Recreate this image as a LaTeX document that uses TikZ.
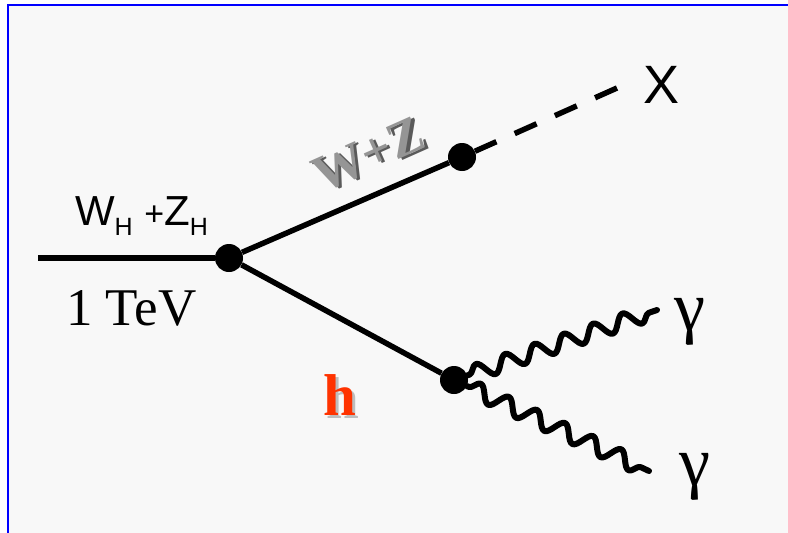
\documentclass[tikz,border=0pt]{standalone}
\usepackage{fontspec}
\setmainfont{Liberation Serif}
\setsansfont{Liberation Sans}
\usetikzlibrary{decorations.pathmorphing}
\definecolor{bg}{HTML}{F8F8F8}
\definecolor{frameblue}{HTML}{0000FF}
\definecolor{hred}{HTML}{FF3300}
\definecolor{wzgray}{HTML}{959595}
\definecolor{wzshadow}{HTML}{5A5A5A}
\definecolor{hshadow}{HTML}{BDBDBD}
\tikzset{
  vertex/.style={circle,fill=black,inner sep=0pt,minimum size=28pt},
  prop/.style={line width=5.5pt},
  dashprop/.style={line width=5.5pt,dash pattern=on 24pt off 20pt},
  photon/.style={line width=6pt,line cap=round,line join=round,
    decorate,decoration={snake,segment length=31pt,amplitude=8pt,pre length=2pt,post length=2pt}},
  lbl/.style={inner sep=0pt,outer sep=0pt}
}
\begin{document}
\begin{tikzpicture}[x=1pt,y=-1pt]
\useasboundingbox (0,0) rectangle (788,533);
\fill[white] (0,0) rectangle (788,533);
\fill[bg] (8,5) rectangle (788,533);
\draw[frameblue,line width=2.2pt] (7.7,533) -- (7.7,5.3) -- (788,5.3);
% vertices
\node[vertex] (v1) at (229,258) {};
\node[vertex] (v2) at (462,157) {};
\node[vertex] (v3) at (454,380) {};
\coordinate (in) at (38,258);
\coordinate (xend) at (617,88);
\coordinate (g1) at (657,310);
\coordinate (g2) at (649,471);
% lines
\draw[prop] (in) -- (v1);
\draw[prop] (v1) -- (v2);
\draw[prop] (v1) -- (v3);
\draw[dashprop] (xend) -- (v2);
\draw[photon] (v3) -- (g1);
\draw[photon] (v3) -- (g2);
% labels
\node[lbl,anchor=base west,font=\sffamily\fontsize{42}{46}\selectfont] (wh) at (75,225)
  {W\raisebox{-10pt}{\fontsize{25}{27}\selectfont H} {\fontsize{34}{36}\selectfont +}Z\raisebox{-10pt}{\fontsize{25}{27}\selectfont H}};
\node[lbl,anchor=base west,font=\fontsize{53}{58}\selectfont] (tev) at (66,325) {1 TeV};
\node[lbl,anchor=base,font=\sffamily\fontsize{54}{58}\selectfont] (xl) at (661.5,103) {X};
\node[lbl,anchor=base,font=\fontsize{70}{74}\selectfont] (ga) at (690,330) {γ};
\node[lbl,anchor=base,font=\fontsize{70}{74}\selectfont] (gb) at (695,485) {γ};
\node[lbl,anchor=base,font=\bfseries\fontsize{59}{62}\selectfont] (h) at (340,415)
  {\rlap{\kern3pt\raisebox{-3pt}{\textcolor{hshadow}{h}}}\textcolor{hred}{h}};
\node[lbl,rotate=24,font=\bfseries\fontsize{52}{55}\selectfont] (wz) at (369,156)
  {\rlap{\kern2.5pt\raisebox{-2.5pt}{\textcolor{wzshadow}{W+Z}}}\textcolor{wzgray}{W+Z}};
\end{tikzpicture}
\end{document}
